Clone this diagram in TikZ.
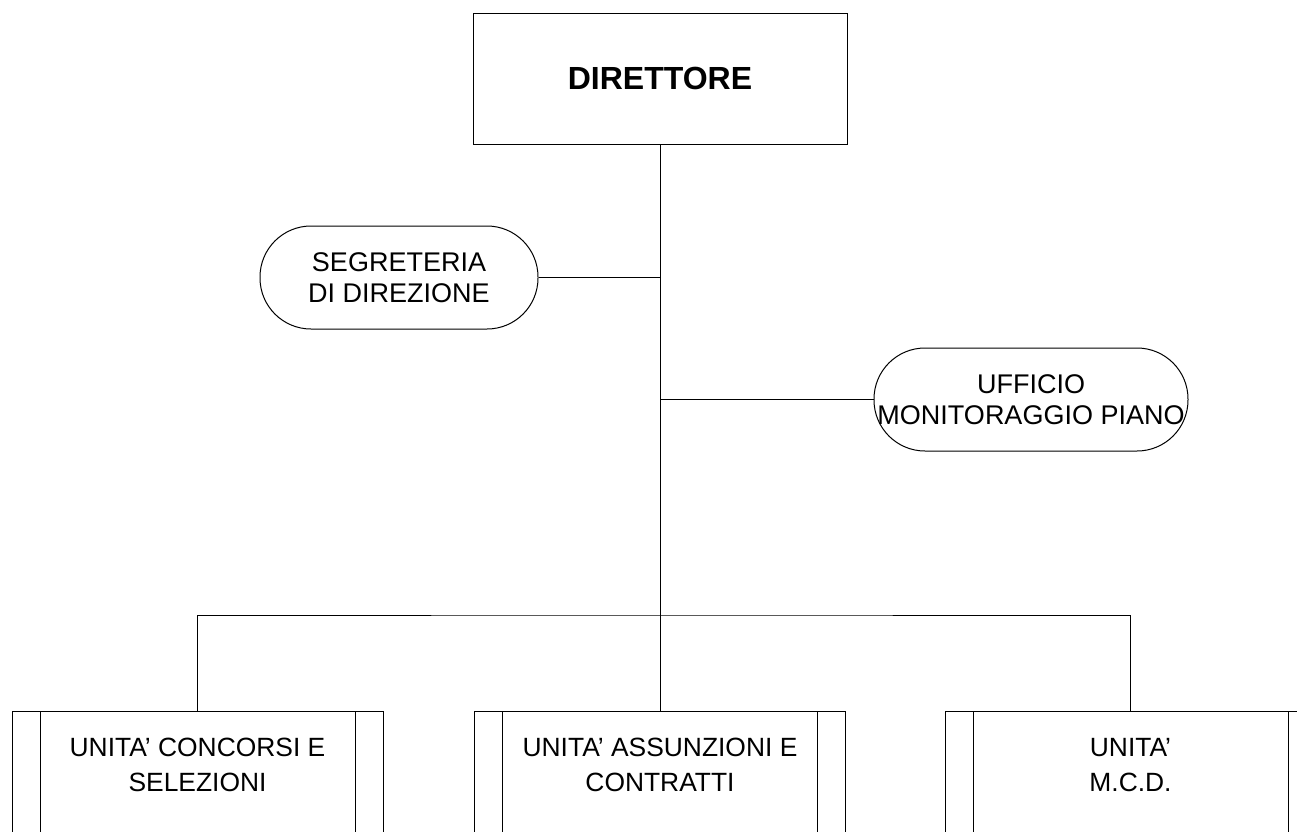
\documentclass[tikz,border=0pt]{standalone}
\usepackage{fontspec}
\setmainfont{Liberation Sans}
\begin{document}
\begin{tikzpicture}[x=0.5pt,y=-0.5pt,line width=0.5pt,
  headbox/.style={draw,rectangle,minimum width=187pt,minimum height=65.5pt,inner sep=0pt,
    font=\fontsize{16}{19}\selectfont\bfseries},
  staffbox/.style={draw,rounded corners=25.5pt,minimum height=51.5pt,inner sep=0pt,align=center,
    font=\fontsize{13.5}{15.5}\selectfont},
  unitbox/.style={draw,rectangle,minimum width=185.5pt,minimum height=80pt,inner sep=0pt,
    path picture={
      \draw ([xshift=14pt]path picture bounding box.north west) -- ([xshift=14pt]path picture bounding box.south west);
      \draw ([xshift=-14pt]path picture bounding box.north east) -- ([xshift=-14pt]path picture bounding box.south east);
    }},
  unittext/.style={align=center,inner sep=0pt,font=\fontsize{13.2}{17.5}\selectfont}]
\useasboundingbox (0,0) rectangle (1297,831);
\clip (0,0) rectangle (1297,831);

\node[headbox] (dir) at (660,78.5) {DIRETTORE};
\node[staffbox,minimum width=139pt] (seg) at (399,277.5) {SEGRETERIA\\DI DIREZIONE};
\node[staffbox,minimum width=157pt] (uff) at (1031,399.5) {UFFICIO\\MONITORAGGIO PIANO};

\node[unitbox] (u1) at (197.5,791) {};
\node[unitbox] (u2) at (660,791) {};
\node[unitbox] (u3) at (1130.5,791) {};
\node[unittext] (t1) at (197.5,765) {UNITA’ CONCORSI E\\SELEZIONI};
\node[unittext] (t2) at (660,765) {UNITA’ ASSUNZIONI E\\CONTRATTI};
\node[unittext] (t3) at (1130.5,765) {UNITA’\\M.C.D.};

\coordinate (bus) at (660,615);
\draw (dir.south) -- (u2.north);
\draw (seg.east) -- (seg.east -| dir.south);
\draw (uff.west) -- (uff.west -| dir.south);
\draw (u1.north) |- (bus) -| (u3.north);
\end{tikzpicture}
\end{document}
